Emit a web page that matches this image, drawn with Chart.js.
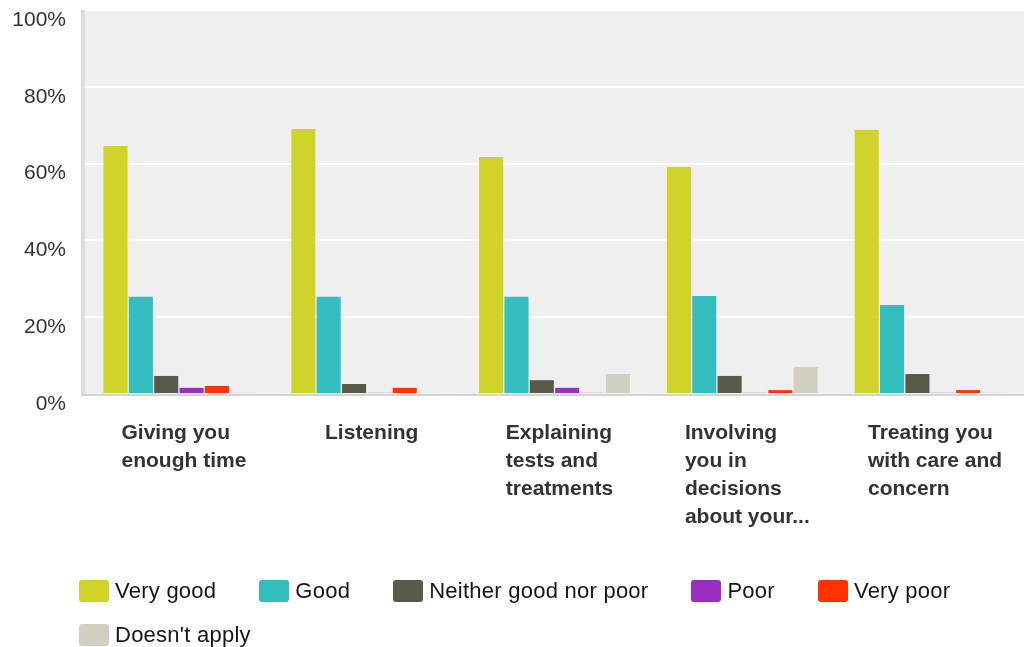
<!DOCTYPE html>
<html><head><meta charset="utf-8">
<script src="https://cdn.jsdelivr.net/npm/chart.js@4.4.0/dist/chart.umd.min.js"></script>
<style>
html,body{margin:0;padding:0;background:#fff;}
#wrap{position:relative;width:1026px;height:647px;overflow:hidden;}
#c{position:absolute;left:0;top:0;}
#legend{position:absolute;left:79px;top:576px;width:945px;display:flex;flex-wrap:wrap;font-family:"Liberation Sans",Arial,sans-serif;font-size:22px;letter-spacing:0.25px;color:#151515;}
.item{display:flex;align-items:center;height:30px;margin-right:43px;margin-bottom:14px;white-space:nowrap;}
.box{width:30px;height:22px;border-radius:3px;margin-right:6px;flex:none;}
</style></head>
<body>
<div id="wrap"><canvas id="c" width="1026" height="647"></canvas><div id="legend"></div></div>
<script>
const categories = [
  ["Giving you","enough time"],
  ["Listening"],
  ["Explaining","tests and","treatments"],
  ["Involving","you in","decisions","about your..."],
  ["Treating you","with care and","concern"]
];
const seriesNames = ["Very good","Good","Neither good nor poor","Poor","Very poor","Doesn't apply"];
const veryGood    = [64.6, 69.0, 61.7, 59.1, 68.8];
const good        = [25.3, 25.3, 25.3, 25.5, 23.2];
const neither     = [4.7, 2.6, 3.6, 4.7, 5.2];
const poor        = [1.6, 0.3, 1.6, 0.3, 0.3];
const veryPoor    = [2.1, 1.6, 0.3, 1.0, 1.0];
const doesntApply = [0.3, 0.0, 5.2, 7.0, 0.3];
const colors = ["#d0d42a","#34bec0","#5b5a4a","#9a2ec0","#ff3300","#d1d0c3"];
const seriesValues = [veryGood, good, neither, poor, veryPoor, doesntApply];

const FONT = '"Liberation Sans", Arial, sans-serif';

const bgPlugin = {
  id:'bg',
  beforeDraw(chart){
    const {ctx, chartArea:a} = chart;
    ctx.save();
    ctx.fillStyle = '#efefef';
    ctx.fillRect(a.left, a.top, a.right - a.left, a.bottom - a.top);
    ctx.fillStyle = '#dddddd';
    ctx.fillRect(a.left - 4, a.top, 4, a.bottom - a.top + 2);
    ctx.restore();
  },
  afterDatasetsDraw(chart){
    const {ctx, chartArea:a} = chart;
    ctx.save();
    ctx.fillStyle = '#d4d4d4';
    ctx.fillRect(a.left - 4, a.bottom, a.right - a.left + 4, 2);
    ctx.restore();
  },
  afterDraw(chart){
    const {ctx, chartArea:a} = chart;
    const xs = chart.scales.x;
    ctx.save();
    ctx.font = 'bold 21px ' + FONT;
    ctx.fillStyle = '#333333';
    ctx.textAlign = 'left';
    ctx.textBaseline = 'alphabetic';
    categories.forEach((lines, i) => {
      const cx = xs.getPixelForValue(i);
      const w = Math.max(...lines.map(l => ctx.measureText(l).width));
      const left = cx - w / 2 + 5;
      lines.forEach((l, j) => ctx.fillText(l, left, a.bottom + 45 + 28 * j));
    });
    ctx.restore();
  }
};

new Chart(document.getElementById('c'), {
  type: 'bar',
  data: {
    labels: categories.map(l => l.join(' ')),
    datasets: seriesNames.map((n, i) => ({
      label: n,
      data: seriesValues[i],
      backgroundColor: colors[i],
      borderWidth: 0,
      barPercentage: 0.95,
      categoryPercentage: 0.81
    }))
  },
  options: {
    responsive: false,
    animation: false,
    layout: {padding: {top: 10, right: 2, bottom: 0, left: 0}},
    plugins: {legend: {display: false}, tooltip: {enabled: false}},
    scales: {
      x: {
        grid: {display: false},
        border: {display: false},
        ticks: {display: false},
        afterFit(s){ s.height = 253; }
      },
      y: {
        min: 0, max: 100,
        ticks: {stepSize: 20, padding: 19, color: '#333333', labelOffset: 10,
                font: {family: FONT, size: 21},
                callback: v => v + '%'},
        grid: {drawTicks: false,
               color: c => (c.tick && c.tick.value === 0) ? 'rgba(0,0,0,0)' : '#ffffff',
               lineWidth: 2},
        border: {display: false},
        afterFit(s){ s.width = 85; s.paddingTop = 0; s.paddingBottom = 0; }
      }
    }
  },
  plugins: [bgPlugin]
});

const lg = document.getElementById('legend');
seriesNames.forEach((n, i) => {
  const it = document.createElement('div'); it.className = 'item';
  const b = document.createElement('div'); b.className = 'box'; b.style.background = colors[i];
  const t = document.createElement('span'); t.textContent = n;
  it.appendChild(b); it.appendChild(t); lg.appendChild(it);
});
</script>
</body></html>
